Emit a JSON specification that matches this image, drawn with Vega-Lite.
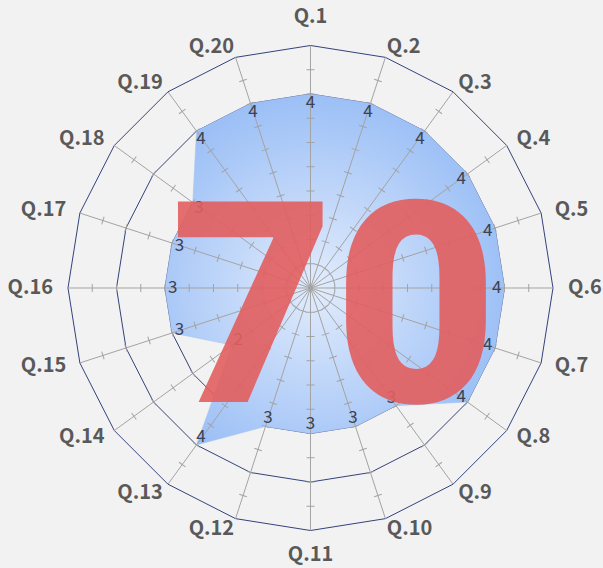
{
  "$schema": "https://vega.github.io/schema/vega-lite/v6.json",
  "width": 603,
  "height": 568,
  "autosize": "none",
  "padding": 0,
  "background": "#f2f2f2",
  "config": {"view": {"stroke": null}},
  "datasets": {
    "qs": [
      {"q": "Q.1", "n": 1, "value": 4},
      {"q": "Q.2", "n": 2, "value": 4},
      {"q": "Q.3", "n": 3, "value": 4},
      {"q": "Q.4", "n": 4, "value": 4},
      {"q": "Q.5", "n": 5, "value": 4},
      {"q": "Q.6", "n": 6, "value": 4},
      {"q": "Q.7", "n": 7, "value": 4},
      {"q": "Q.8", "n": 8, "value": 4},
      {"q": "Q.9", "n": 9, "value": 3},
      {"q": "Q.10", "n": 10, "value": 3},
      {"q": "Q.11", "n": 11, "value": 3},
      {"q": "Q.12", "n": 12, "value": 3},
      {"q": "Q.13", "n": 13, "value": 4},
      {"q": "Q.14", "n": 14, "value": 2},
      {"q": "Q.15", "n": 15, "value": 3},
      {"q": "Q.16", "n": 16, "value": 3},
      {"q": "Q.17", "n": 17, "value": 3},
      {"q": "Q.18", "n": 18, "value": 3},
      {"q": "Q.19", "n": 19, "value": 4},
      {"q": "Q.20", "n": 20, "value": 4}
    ]
  },
  "data": {"name": "qs"},
  "layer": [
    {
      "transform": [
        {"calculate": "[1,2,3,4,5]", "as": "lv"},
        {"flatten": ["lv"]},
        {"calculate": "datum.lv*sin((datum.n-1)*PI/10)", "as": "gx"},
        {"calculate": "datum.lv*cos((datum.n-1)*PI/10)", "as": "gy"}
      ],
      "mark": {"type": "line", "interpolate": "linear-closed", "stroke": "#34427c", "strokeWidth": 1},
      "encoding": {
        "x": {"field": "gx", "type": "quantitative", "axis": null, "scale": {"domain": [-6.402, 6.031], "nice": false, "zero": false}},
        "y": {"field": "gy", "type": "quantitative", "axis": null, "scale": {"domain": [-5.773, 5.938], "nice": false, "zero": false}},
        "detail": {"field": "lv", "type": "nominal"},
        "order": {"field": "n", "type": "quantitative"}
      }
    },
    {
      "transform": [
        {"calculate": "datum.value*sin((datum.n-1)*PI/10)", "as": "px"},
        {"calculate": "datum.value*cos((datum.n-1)*PI/10)", "as": "py"}
      ],
      "mark": {
        "type": "line",
        "interpolate": "linear-closed",
        "stroke": "#a9c6f2",
        "strokeWidth": 0.6,
        "fill": {
          "gradient": "radial",
          "x1": 0.45, "y1": 0.55, "r1": 0,
          "x2": 0.45, "y2": 0.55, "r2": 0.55,
          "stops": [
            {"offset": 0, "color": "#e2ecfc"},
            {"offset": 1, "color": "#9bbff6"}
          ]
        }
      },
      "encoding": {
        "x": {"field": "px", "type": "quantitative"},
        "y": {"field": "py", "type": "quantitative"},
        "order": {"field": "n", "type": "quantitative"}
      }
    },
    {
      "transform": [
        {"calculate": "0", "as": "ox"},
        {"calculate": "0", "as": "oy"},
        {"calculate": "5*sin((datum.n-1)*PI/10)", "as": "ax"},
        {"calculate": "5*cos((datum.n-1)*PI/10)", "as": "ay"}
      ],
      "mark": {"type": "rule", "stroke": "#a3a3a3", "strokeWidth": 1},
      "encoding": {
        "x": {"field": "ox", "type": "quantitative"},
        "y": {"field": "oy", "type": "quantitative"},
        "x2": {"field": "ax"},
        "y2": {"field": "ay"}
      }
    },
    {
      "transform": [
        {"calculate": "[0.5,1,1.5,2,2.5,3,3.5,4,4.5]", "as": "tl"},
        {"flatten": ["tl"]},
        {"calculate": "datum.tl*sin((datum.n-1)*PI/10)", "as": "tx"},
        {"calculate": "datum.tl*cos((datum.n-1)*PI/10)", "as": "ty"},
        {"calculate": "(datum.n-1)*18", "as": "deg"}
      ],
      "mark": {"type": "point", "shape": "stroke", "size": 64, "stroke": "#a3a3a3", "strokeWidth": 1, "opacity": 1},
      "encoding": {
        "x": {"field": "tx", "type": "quantitative"},
        "y": {"field": "ty", "type": "quantitative"},
        "angle": {"field": "deg", "type": "quantitative", "scale": null}
      }
    },
    {
      "transform": [
        {"calculate": "datum.value*sin((datum.n-1)*PI/10) - 0.16*sin((datum.n-1)*PI/10)", "as": "lx"},
        {"calculate": "datum.value*cos((datum.n-1)*PI/10) - 0.19*cos((datum.n-1)*PI/10)", "as": "ly"}
      ],
      "mark": {"type": "text", "font": "Noto Sans CJK JP", "fontSize": 17, "fill": "#3a4254", "align": "center", "baseline": "middle"},
      "encoding": {
        "x": {"field": "lx", "type": "quantitative"},
        "y": {"field": "ly", "type": "quantitative"},
        "text": {"field": "value", "type": "quantitative"}
      }
    },
    {
      "data": {"values": [{"label": "70"}]},
      "mark": {"type": "text", "font": "Roboto", "fontWeight": 900, "fontSize": 282, "fill": "#e35f5f", "opacity": 0.9, "align": "center", "baseline": "alphabetic"},
      "encoding": {
        "x": {"datum": 0.49, "type": "quantitative"},
        "y": {"datum": -2.35, "type": "quantitative"},
        "text": {"field": "label", "type": "nominal"}
      }
    },
    {
      "transform": [
        {"filter": "datum.n >= 2 && datum.n <= 10"},
        {"calculate": "5*sin((datum.n-1)*PI/10) + 15*pow(sin((datum.n-1)*PI/10),2)/48.5", "as": "qx"},
        {"calculate": "5*cos((datum.n-1)*PI/10) + 11*cos((datum.n-1)*PI/10)/48.5", "as": "qy"}
      ],
      "mark": {"type": "text", "font": "Noto Sans CJK JP", "fontWeight": "bold", "fontSize": 20, "fill": "#595959", "align": "left", "baseline": "middle"},
      "encoding": {
        "x": {"field": "qx", "type": "quantitative"},
        "y": {"field": "qy", "type": "quantitative"},
        "text": {"field": "q", "type": "nominal"}
      }
    },
    {
      "transform": [
        {"filter": "datum.n >= 12"},
        {"calculate": "5*sin((datum.n-1)*PI/10) - 15*pow(sin((datum.n-1)*PI/10),2)/48.5", "as": "qx"},
        {"calculate": "5*cos((datum.n-1)*PI/10) + 11*cos((datum.n-1)*PI/10)/48.5", "as": "qy"}
      ],
      "mark": {"type": "text", "font": "Noto Sans CJK JP", "fontWeight": "bold", "fontSize": 20, "fill": "#595959", "align": "right", "baseline": "middle"},
      "encoding": {
        "x": {"field": "qx", "type": "quantitative"},
        "y": {"field": "qy", "type": "quantitative"},
        "text": {"field": "q", "type": "nominal"}
      }
    },
    {
      "transform": [
        {"filter": "datum.n == 1 || datum.n == 11"},
        {"calculate": "0", "as": "qx"},
        {"calculate": "5*cos((datum.n-1)*PI/10) + (datum.n == 1 ? 0.59 : -0.5)", "as": "qy"}
      ],
      "mark": {"type": "text", "font": "Noto Sans CJK JP", "fontWeight": "bold", "fontSize": 20, "fill": "#595959", "align": "center", "baseline": "middle"},
      "encoding": {
        "x": {"field": "qx", "type": "quantitative"},
        "y": {"field": "qy", "type": "quantitative"},
        "text": {"field": "q", "type": "nominal"}
      }
    }
  ]
}
